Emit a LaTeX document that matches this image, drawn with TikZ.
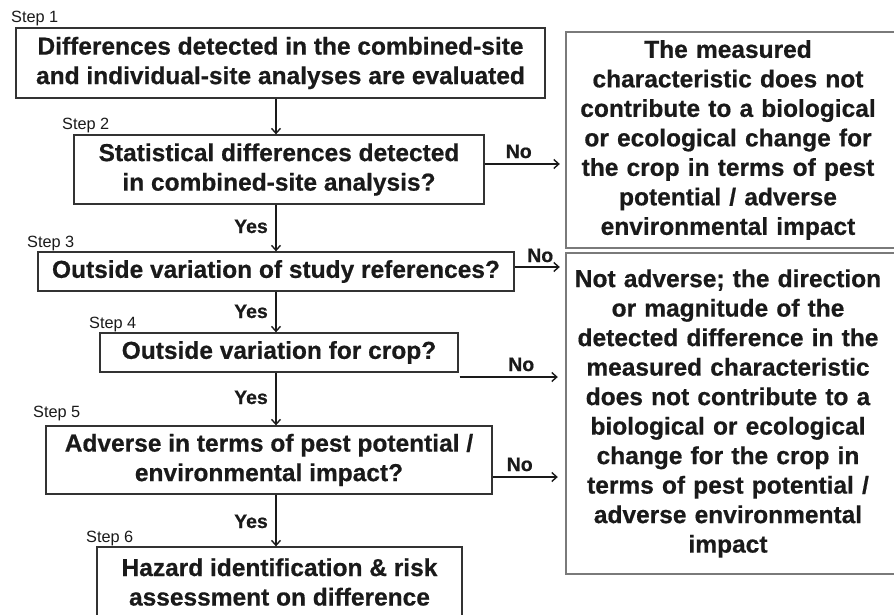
\documentclass[tikz,border=0pt]{standalone}
\usepackage{fontspec}
\setmainfont{Liberation Sans}[BoldFeatures={FakeBold=0.6}]
\usetikzlibrary{arrows.meta}
\definecolor{txt}{HTML}{1A1A1A}
\definecolor{lbord}{HTML}{333333}
\definecolor{rbord}{HTML}{7A7A7A}
\begin{document}
\begin{tikzpicture}[x=1pt,y=-1pt,
  txtbig/.style={font=\fontsize{24.5}{29.5}\selectfont\bfseries, text=txt},
  lbox/.style={txtbig, draw=lbord, line width=1.3pt, rectangle, inner sep=0pt, align=center},
  rbox/.style={txtbig, draw=none, rectangle, inner sep=0pt, align=center},
  rline/.style={draw=rbord, line width=1.5pt},
  steplbl/.style={font=\fontsize{16.3}{19}\selectfont, text=txt, anchor=base west, inner sep=0pt},
  yn/.style={font=\fontsize{19.5}{23}\selectfont\bfseries, text=txt, inner sep=0pt},
  arr/.style={draw=txt, line width=1.4pt, -{Straight Barb[length=5pt,width=9pt,line width=1.4pt]}}
]
\useasboundingbox (0,0) rectangle (894,615);
\coordinate (ax) at (276,0);

% left boxes
\node[lbox, minimum width=529pt, minimum height=70pt] (S1) at (280.5,63)
  {Differences detected in the combined-site\\and individual-site analyses are evaluated};
\node[lbox, minimum width=410pt, minimum height=69pt] (S2) at (279,169.5)
  {Statistical differences detected\\in combined-site analysis?};
\node[lbox, minimum width=476pt, minimum height=39pt] (S3) at (276,271.5)
  {Outside variation of study references?};
\node[lbox, minimum width=358pt, minimum height=39pt] (S4) at (279,352.5)
  {Outside variation for crop?};
\node[lbox, minimum width=446pt, minimum height=68pt] (S5) at (269,460)
  {Adverse in terms of pest potential /\\environmental impact?};
\node[lbox, minimum width=365pt, minimum height=70pt] (S6) at (279.5,582)
  {Hazard identification \& risk\\assessment on difference};

% step labels
\node[steplbl] (L1) at (11,23) {Step 1};
\node[steplbl] (L2) at (62,130) {Step 2};
\node[steplbl] (L3) at (27,247) {Step 3};
\node[steplbl] (L4) at (89,328) {Step 4};
\node[steplbl] (L5) at (33,417) {Step 5};
\node[steplbl] (L6) at (86,542) {Step 6};

% right boxes
\node[rbox, minimum width=324pt, minimum height=216pt, text width=318pt] (R1) at (728,140)
  {The measured\\characteristic does not\\contribute to a biological\\or ecological change for\\the crop in terms of pest\\potential / adverse\\environmental impact};
\node[rbox, minimum width=324pt, minimum height=321pt, text width=318pt] (R2) at (728,413.5)
  {Not adverse; the direction\\or magnitude of the\\detected difference in the\\measured characteristic\\does not contribute to a\\biological or ecological\\change for the crop in\\terms of pest potential /\\adverse environmental\\impact};
\draw[rline] ([xshift=8pt]R1.north east) -- (R1.north west) -- (R1.south west) -- ([xshift=8pt]R1.south east);
\draw[rline] ([xshift=8pt]R2.north east) -- (R2.north west) -- (R2.south west) -- ([xshift=8pt]R2.south east);

% vertical arrows
\draw[arr] (S1.south -| ax) -- (S2.north -| ax);
\draw[arr] (S2.south -| ax) -- (S3.north -| ax);
\draw[arr] (S3.south -| ax) -- (S4.north -| ax);
\draw[arr] (S4.south -| ax) -- (S5.north -| ax);
\draw[arr] (S5.south -| ax) -- (S6.north -| ax);

% Yes labels
\node[yn, anchor=base east] (Y1) at (268,233) {Yes};
\node[yn, anchor=base east] (Y2) at (268,318) {Yes};
\node[yn, anchor=base east] (Y3) at (268,404) {Yes};
\node[yn, anchor=base east] (Y4) at (268,528) {Yes};

% No arrows
\draw[arr, shorten >=6pt] ([yshift=5.5pt]S2.east) -- ([yshift=5.5pt]S2.east -| R1.west)
  node[yn, anchor=base, pos=0.42, yshift=6pt] (N1) {No};
\draw[arr, shorten >=6pt] ([yshift=4.5pt]S3.east) -- ([yshift=4.5pt]S3.east -| R2.west)
  node[yn, anchor=base, pos=0.5, yshift=5pt] (N2) {No};
\draw[arr, shorten >=8pt] ([yshift=-24.5pt,xshift=1pt]S4.east) -- ([yshift=-24.5pt]S4.east -| R2.west)
  node[yn, anchor=base, pos=0.58, yshift=6pt] (N3) {No};
\draw[arr, shorten >=8pt] ([yshift=-17pt]S5.east) -- ([yshift=-17pt]S5.east -| R2.west)
  node[yn, anchor=base, pos=0.37, yshift=6pt] (N4) {No};
\end{tikzpicture}
\end{document}
